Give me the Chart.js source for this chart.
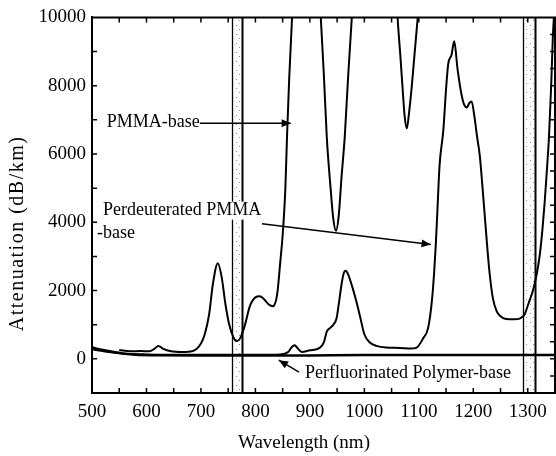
<!DOCTYPE html>
<html>
<head>
<meta charset="utf-8">
<title>Attenuation spectra of polymer optical fibres</title>
<script src="https://cdn.jsdelivr.net/npm/chart.js@4.4.0/dist/chart.umd.min.js"></script>
<style>
    html, body { margin: 0; padding: 0; background: #fff; }
    #wrap { width: 556px; height: 456px; }
</style>
</head>
<body>
<div id="wrap"><canvas id="lossChart" width="556" height="456"></canvas></div>
<script>
// Values (wavelength in nm, attenuation in dB/km).
// Anything above 10000 runs off the top of the plot, as in the original.
const pmmaWavelength = [550, 570, 590, 605, 615, 622, 630, 645, 665, 685, 700, 707, 715, 722, 731, 738, 745, 752, 760, 766, 772, 780, 790, 800, 808, 815, 824, 832, 840, 846, 850, 855, 858, 862, 867, 872, 880, 900, 915, 920, 926, 931, 938, 943, 948, 953, 958, 964, 970, 977, 985, 1000, 1050, 1058, 1061, 1066, 1070, 1074, 1078, 1082, 1087, 1092, 1098, 1105, 1150, 1350];
const pmmaLoss = [260, 220, 230, 220, 300, 380, 300, 220, 200, 230, 450, 720, 1300, 2200, 2800, 2400, 1600, 1000, 620, 520, 600, 950, 1550, 1800, 1830, 1760, 1600, 1540, 1900, 2900, 3620, 5000, 6500, 8200, 9900, 11000, 12000, 12000, 11000, 10000, 8200, 6500, 5000, 4100, 3750, 4200, 5300, 6500, 8200, 10000, 11500, 12000, 12000, 11000, 10000, 8900, 7970, 7100, 6750, 7200, 7970, 8900, 10000, 11500, 12000, 12000];

const deutWavelength = [500, 530, 560, 600, 700, 800, 845, 860, 866, 872, 878, 885, 900, 918, 926, 931, 937, 943, 949, 953, 958, 962, 966, 970, 978, 985, 992, 1000, 1010, 1022, 1040, 1065, 1085, 1096, 1108, 1117, 1124, 1128, 1131, 1134, 1138, 1145, 1150, 1154, 1160, 1165, 1171, 1178, 1183, 1188, 1193, 1197, 1202, 1207, 1212, 1219, 1226, 1230, 1236, 1243, 1250, 1260, 1275, 1285, 1290, 1294, 1302, 1309, 1316, 1322, 1327, 1331, 1335, 1339, 1343, 1346, 1350];
const deutLoss = [280, 200, 150, 130, 120, 120, 130, 200, 330, 400, 300, 200, 250, 320, 500, 800, 900, 1000, 1190, 1600, 2170, 2500, 2580, 2480, 2100, 1700, 1250, 720, 480, 380, 330, 320, 300, 330, 600, 900, 1700, 2500, 3300, 4300, 5650, 6700, 7900, 8640, 8900, 9300, 8500, 7770, 7450, 7360, 7500, 7540, 7100, 6500, 5940, 4600, 3200, 2500, 1770, 1390, 1250, 1170, 1160, 1180, 1230, 1300, 1650, 1970, 2450, 3040, 3800, 4580, 5500, 6520, 8000, 9420, 10500];

const fluorWavelength = [500, 520, 540, 560, 580, 620, 700, 800, 900, 1000, 1100, 1200, 1300, 1350];
const fluorLoss = [330, 260, 200, 150, 120, 105, 95, 95, 100, 110, 110, 110, 115, 115];

const xTickLabels = [500, 600, 700, 800, 900, 1000, 1100, 1200, 1300];
const yTickLabels = [0, 2000, 4000, 6000, 8000, 10000];

// shaded measurement windows (nm)
const bands = [[757, 775], [1292, 1313]];

const notes = [
    { text: 'PMMA-base', wl: 527, att: 6920 },
    { text: 'Perdeuterated PMMA', wl: 520, att: 4340 },
    { text: '-base', wl: 509, att: 3670 },
    { text: 'Perfluorinated Polymer-base', wl: 891, att: -420 }
];
const arrows = [
    { from: [698, 6900], to: [865, 6900] },
    { from: [812, 3960], to: [1122, 3350] },
    { from: [880, -390], to: [843, -40] }
];

const serif = '"Liberation Serif", "DejaVu Serif", serif';

function pairs(xs, ys) {
    return xs.map((x, i) => ({ x: x, y: ys[i] }));
}

function lineSet(label, xs, ys, width) {
    return {
        label: label,
        data: pairs(xs, ys),
        borderColor: '#000',
        borderWidth: width,
        pointRadius: 0,
        fill: false,
        cubicInterpolationMode: 'monotone',
        clip: 0
    };
}

// dotted fill for the two vertical bands
function stipple() {
    const c = document.createElement('canvas');
    c.width = 7; c.height = 9;
    const g = c.getContext('2d');
    g.fillStyle = 'rgba(0,0,0,0.45)';
    g.fillRect(1, 2, 1, 1);
    g.fillRect(5, 7, 1, 1);
    return c;
}

function arrowHead(ctx, x1, y1, x2, y2) {
    const a = Math.atan2(y2 - y1, x2 - x1);
    const len = 10, spread = 0.4;
    ctx.beginPath();
    ctx.moveTo(x2, y2);
    ctx.lineTo(x2 - len * Math.cos(a - spread), y2 - len * Math.sin(a - spread));
    ctx.lineTo(x2 - len * Math.cos(a + spread), y2 - len * Math.sin(a + spread));
    ctx.closePath();
    ctx.fill();
}

const figurePlugin = {
    id: 'figure',
    beforeDatasetsDraw(chart) {
        const ctx = chart.ctx;
        const { top, bottom } = chart.chartArea;
        const xs = chart.scales.x;
        ctx.save();
        ctx.fillStyle = ctx.createPattern(stipple(), 'repeat');
        bands.forEach(b => {
            const l = xs.getPixelForValue(b[0]);
            const r = xs.getPixelForValue(b[1]);
            ctx.fillRect(l, top, r - l, bottom - top);
        });
        ctx.restore();
    },
    afterDatasetsDraw(chart) {
        const ctx = chart.ctx;
        const { left, right, top, bottom } = chart.chartArea;
        const xs = chart.scales.x, ys = chart.scales.y;
        ctx.save();
        ctx.strokeStyle = '#000';
        ctx.fillStyle = '#000';

        // band edges
        bands.forEach(b => {
            [[b[0], 1.3], [b[1], 2]].forEach(e => {
                const px = Math.round(xs.getPixelForValue(e[0])) + 0.5;
                ctx.lineWidth = e[1];
                ctx.beginPath();
                ctx.moveTo(px, top);
                ctx.lineTo(px, bottom);
                ctx.stroke();
            });
        });

        // top and right frame
        ctx.lineWidth = 2;
        ctx.beginPath();
        ctx.moveTo(left, top);
        ctx.lineTo(right, top);
        ctx.lineTo(right, bottom);
        ctx.stroke();

        // inward tick marks
        ctx.lineWidth = 1.5;
        ctx.beginPath();
        for (let w = 550; w < xs.max; w += 50) {
            const px = xs.getPixelForValue(w);
            ctx.moveTo(px, bottom); ctx.lineTo(px, bottom - 5);
            ctx.moveTo(px, top); ctx.lineTo(px, top + 5);
        }
        for (let v = ys.min + 1000; v < ys.max; v += 1000) {
            const py = ys.getPixelForValue(v);
            ctx.moveTo(left, py); ctx.lineTo(left + 5, py);
        }
        for (let v = ys.min + 500; v < ys.max; v += 500) {
            const py = ys.getPixelForValue(v);
            ctx.moveTo(right, py); ctx.lineTo(right - 5, py);
        }
        ctx.stroke();

        // labels and arrows
        ctx.font = '18px ' + serif;
        ctx.textAlign = 'left';
        ctx.textBaseline = 'middle';
        notes.forEach(n => {
            const x = xs.getPixelForValue(n.wl), y = ys.getPixelForValue(n.att);
            ctx.fillStyle = '#fff';
            ctx.fillRect(x - 2, y - 9, ctx.measureText(n.text).width + 4, 18);
            ctx.fillStyle = '#000';
            ctx.fillText(n.text, x, y);
        });
        ctx.lineWidth = 1.5;
        arrows.forEach(a => {
            const x1 = xs.getPixelForValue(a.from[0]), y1 = ys.getPixelForValue(a.from[1]);
            const x2 = xs.getPixelForValue(a.to[0]), y2 = ys.getPixelForValue(a.to[1]);
            ctx.beginPath();
            ctx.moveTo(x1, y1);
            ctx.lineTo(x2, y2);
            ctx.stroke();
            arrowHead(ctx, x1, y1, x2, y2);
        });

        // axis titles
        ctx.font = '19px ' + serif;
        ctx.textAlign = 'center';
        ctx.fillText('Wavelength (nm)', left + 212, bottom + 50);
        ctx.font = '20px ' + serif;
        ctx.letterSpacing = '1.5px';
        ctx.translate(18, top + 216);
        ctx.rotate(-Math.PI / 2);
        ctx.fillText('Attenuation (dB/km)', 0, 0);
        ctx.restore();
    }
};

new Chart(document.getElementById('lossChart'), {
    type: 'line',
    data: {
        datasets: [
            lineSet('PMMA-base', pmmaWavelength, pmmaLoss, 2),
            lineSet('Perdeuterated PMMA-base', deutWavelength, deutLoss, 2),
            lineSet('Perfluorinated Polymer-base', fluorWavelength, fluorLoss, 2.5)
        ]
    },
    options: {
        responsive: false,
        animation: false,
        events: [],
        layout: { padding: { left: 0, top: 14, right: 1, bottom: 0 } },
        plugins: {
            legend: { display: false },
            tooltip: { enabled: false }
        },
        scales: {
            x: {
                type: 'linear',
                min: 500,
                max: 1350,
                afterBuildTicks: s => { s.ticks = xTickLabels.map(v => ({ value: v })); },
                afterFit: s => { s.height = 63; },
                grid: { display: false, drawTicks: false },
                border: { display: true, color: '#000', width: 2 },
                ticks: {
                    color: '#000',
                    padding: 8,
                    maxRotation: 0,
                    autoSkip: false,
                    font: { family: serif, size: 19 },
                    callback: v => String(v)
                }
            },
            y: {
                min: -1000,
                max: 10000,
                afterBuildTicks: s => { s.ticks = yTickLabels.map(v => ({ value: v })); },
                afterFit: s => { s.width = 92; },
                grid: { display: false, drawTicks: false },
                border: { display: true, color: '#000', width: 2 },
                ticks: {
                    color: '#000',
                    padding: 6,
                    font: { family: serif, size: 19 },
                    callback: v => String(v)
                }
            }
        }
    },
    plugins: [figurePlugin]
});
</script>
</body>
</html>
